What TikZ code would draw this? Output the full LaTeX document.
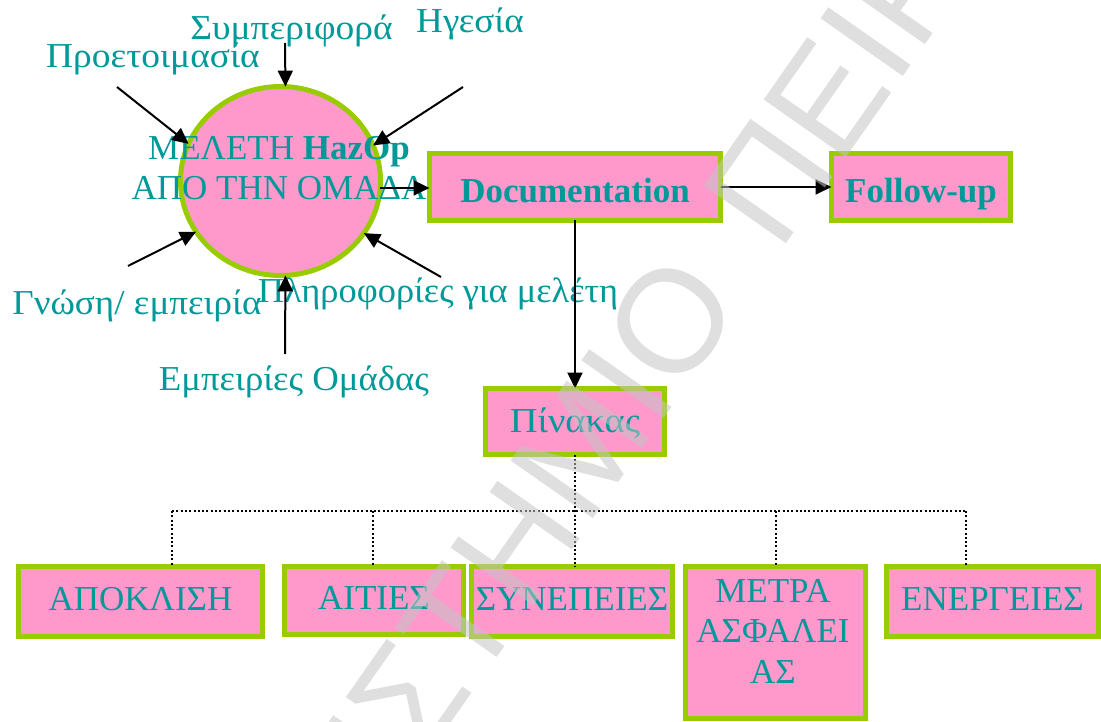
\documentclass[tikz,border=0pt]{standalone}
\usepackage{fontspec}
\setmainfont{Liberation Serif}
\newfontfamily\wmfont{Liberation Sans}
\usetikzlibrary{arrows.meta,shapes.geometric}
\definecolor{boxpink}{HTML}{FF99CC}
\definecolor{boxgreen}{HTML}{99CC00}
\definecolor{labelteal}{HTML}{009999}
\definecolor{wmgray}{RGB}{196,196,196}
% widen a lower-case label horizontally
\newcommand{\widen}[2]{\scalebox{#1}[1]{#2}}
\begin{document}
\begin{tikzpicture}[x=1pt,y=-1pt,
  every node/.style={inner sep=0pt, outer sep=0pt, text=labelteal,
    font=\fontsize{35}{40}\selectfont},
  hub/.style={ellipse, draw=boxgreen, fill=boxpink, line width=5pt,
    minimum width=200pt, minimum height=189pt},
  card/.style={rectangle, draw=boxgreen, fill=boxpink, line width=5pt,
    text height=17pt, text depth=0pt},
  tag/.style={anchor=base},
  feed/.style={line width=2pt, -{Triangle[length=16pt,width=15pt]}},
  branch/.style={line width=2pt, dash pattern=on 2pt off 2.3pt},
  watermark/.style={font=\wmfont\fontsize{146}{146}\selectfont,
    text=wmgray, text opacity=0.55, rotate=55}
]
\useasboundingbox (0,0) rectangle (1101,722);
\clip (0,0) rectangle (1101,722);

% central study bubble
\node[hub] (hazop) at (280.5,181) {};
\node[align=center, anchor=north] (hazoptext) at (279,136)
  {ΜΕΛΕΤΗ \textbf{HazOp}\\ΑΠΟ ΤΗΝ ΟΜΑΔΑ};

% inputs around the bubble
\node[tag] (lbehav) at (291.5,40) {\widen{1.07}{Συμπεριφορά}};
\node[tag] (llead)  at (470,33)   {\widen{1.06}{Ηγεσία}};
\node[tag] (lprep)  at (153,68)   {\widen{1.07}{Προετοιμασία}};
\node[tag] (lknow)  at (137,315)  {\widen{1.06}{Γνώση/ εμπειρία}};
\node[tag] (linfo)  at (438,302)  {\widen{1.04}{Πληροφορίες για μελέτη}};
\node[tag] (lexp)   at (294,390)  {\widen{1.05}{Εμπειρίες Ομάδας}};

\coordinate (sbehav) at (285,43);
\coordinate (sprep)  at (117,87);
\coordinate (slead)  at (463,87);
\coordinate (sknow)  at (128,266);
\coordinate (sinfo)  at (441,277);
\coordinate (sexp)   at (285,354);

% output boxes
\node[card, text height=31pt, minimum width=291pt, minimum height=67pt] (doc) at (575,187) {\textbf{Documentation}};
\node[card, text height=31pt, minimum width=179pt, minimum height=67pt] (follow) at (921,187) {\textbf{Follow-up}};
\node[card, text height=21pt, minimum width=179pt, minimum height=66pt] (pinakas) at (575,421.5) {\widen{1.1}{Πίνακας}};

% table columns
\node[card, minimum width=244pt, minimum height=70pt] (apok) at (140.5,601.5) {ΑΠΟΚΛΙΣΗ};
\node[card, minimum width=179pt, minimum height=68pt] (aities) at (374,600.5) {ΑΙΤΙΕΣ};
\node[card, minimum width=201pt, minimum height=70pt] (synep) at (572,601.5) {ΣΥΝΕΠΕΙΕΣ};
\node[card, minimum width=180pt, minimum height=152pt] (metra) at (775.5,642.5) {};
\node[align=center, anchor=north, font=\fontsize{35}{40.5}\selectfont] (metratext) at (773,579)
  {ΜΕΤΡΑ\\ΑΣΦΑΛΕΙ\\ΑΣ};
\node[card, minimum width=212pt, minimum height=70pt] (energ) at (992.5,601.5) {ΕΝΕΡΓΕΙΕΣ};

% arrows into the bubble
\draw[feed] (sbehav) -- (hazop.87);
\draw[feed] (sprep)  -- (hazop.158);
\draw[feed] (slead)  -- (hazop.21);
\draw[feed] (sknow)  -- (hazop.211);
\draw[feed] (sinfo)  -- (hazop.328);
\draw[feed] (sexp)   -- (hazop.273);

% flow between the stages
\draw[feed] (hazop.356) -- (doc.west |- hazop.356);
\draw[feed] (doc.east) -- (follow.west);
\draw[feed] (doc.south) -- (pinakas.north);

% dotted tree from the table to its columns
\coordinate (busL) at (172,511);
\coordinate (busR) at (966,511);
\coordinate (b1) at (172,511);
\coordinate (b2) at (373,511);
\coordinate (b4) at (776,511);
\coordinate (b5) at (966,511);
\draw[branch] (busL) -- (busR);
\draw[branch] (pinakas.south) -- (pinakas.south |- synep.north);
\draw[branch] (b1) -- (b1 |- apok.north);
\draw[branch] (b2) -- (b2 |- aities.north);
\draw[branch] (b4) -- (b4 |- metra.north);
\draw[branch] (b5) -- (b5 |- energ.north);

% diagonal watermark over everything
\node[watermark, anchor=base east] (wm1) at (745,303) {ΠΑΝΕΠΙΣΤΗΜΙΟ};
\node[watermark, anchor=base west] (wm2) at (779,254) {ΠΕΙΡΑΙΩΣ};
\end{tikzpicture}
\end{document}
